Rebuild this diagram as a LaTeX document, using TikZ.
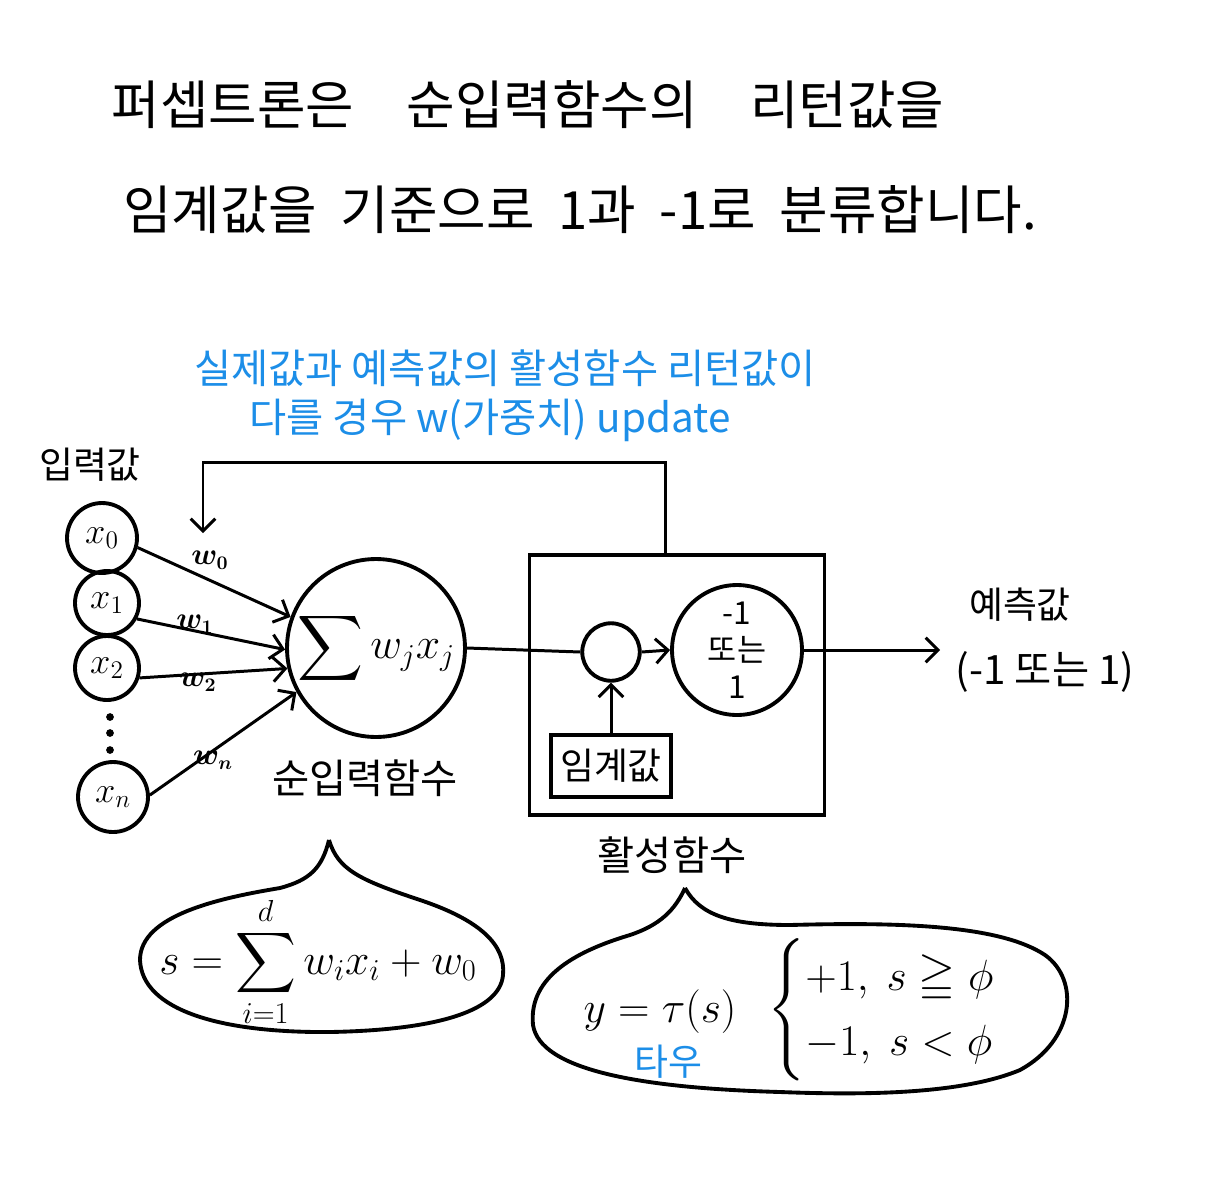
\documentclass[tikz,border=0pt]{standalone}
\usepackage{amsmath,amssymb}
\usepackage{fontspec}
\setmainfont{Noto Sans CJK KR}
\usepackage{tikz}
\usetikzlibrary{positioning,arrows.meta,calc}
\usepackage{xcolor}
\definecolor{penblue}{RGB}{28,142,232}

\begin{document}
\begin{tikzpicture}[x=0.02cm,y=-0.02cm,
  every node/.style={font=\fontsize{21}{25}\selectfont},
  pen/.style={line width=1.7pt},
  penarrow/.style={pen,-{Straight Barb[length=7pt,width=14pt,line width=1.7pt]}},
  incircle/.style={circle,draw,line width=2.2pt,inner sep=0pt},
  wlabel/.style={font=\fontsize{16}{18}\selectfont\boldmath},
  title/.style={font=\fontsize{30}{36}\selectfont},
  bluenote/.style={text=penblue,font=\fontsize{23}{28}\selectfont}]

\fill[white] (0,0) rectangle (1216,1200);

% title
\node[title] (title1) at (528,105) {퍼셉트론은\quad 순입력함수의\quad 리턴값을};
\node[title] (title2) at (580,210) {임계값을\hspace{0.45em}기준으로\hspace{0.45em}1과\hspace{0.45em}-1로\hspace{0.45em}분류합니다.};

% update note
\node[bluenote] (note1) at (505,368) {실제값과 예측값의 활성함수 리턴값이};
\node[bluenote] (note2) at (490,420) {다를 경우 w(가중치) update};

% inputs
\node (inlabel) at (90,465) {입력값};
\node[incircle,minimum size=1.4cm,font=\fontsize{22}{24}\selectfont] (x0) at (102,538) {$x_0$};
\node[incircle,minimum size=1.28cm,font=\fontsize{22}{24}\selectfont] (x1) at (107,603) {$x_1$};
\node[incircle,minimum size=1.28cm,font=\fontsize{22}{24}\selectfont] (x2) at (107,668) {$x_2$};
\node[incircle,minimum size=1.4cm,font=\fontsize{22}{24}\selectfont] (xn) at (113,797) {$x_n$};
\foreach \y in {717,733,750}
  \fill (110,\y) circle (2.2pt);

% net input
\node[incircle,minimum size=3.56cm,font=\fontsize{26}{30}\selectfont] (sum) at (376,648) {$\displaystyle\sum w_j x_j$};
\node[font=\fontsize{23}{26}\selectfont] (sumlabel) at (365,778) {순입력함수};

\node[wlabel] (w0) at (210,560) {$w_0$};
\node[wlabel] (w1) at (195,624) {$w_1$};
\node[wlabel] (w2) at (198,682) {$w_2$};
\node[wlabel] (wn) at (213,760) {$w_n$};

\draw[penarrow] (x0.-15) -- (sum.160);
\draw[penarrow] (x1.-28) -- (sum.181);
\draw[penarrow] (x2.-17) -- (sum.193);
\draw[penarrow] (xn.3) -- (sum.209);

% activation
\node[draw,line width=2pt,minimum width=5.9cm,minimum height=5.2cm] (act) at (677,685) {};
\node[incircle,minimum size=1.15cm] (gate) at (611,652) {};
\node[incircle,minimum size=2.6cm,align=center,font=\fontsize{18}{21}\selectfont] (sign) at (737,650) {-1\\또는\\1};
\node[draw,line width=2pt,minimum width=2.4cm,minimum height=1.24cm] (thr) at (611,766) {임계값};
\node[font=\fontsize{23}{26}\selectfont] (actlabel) at (672,855) {활성함수};

\draw[pen] (sum.east) -- (gate.west);
\draw[penarrow] (gate.east) -- (sign.west);
\draw[penarrow] (thr.north) -- (gate.south);

% output
\coordinate (outtip) at (940,650);
\draw[penarrow] (sign.east) -- (outtip);
\node (predlabel) at (1020,605) {예측값};
\node[font=\fontsize{23}{26}\selectfont] (predrange) at (1045,672) {(-1 또는 1)};

% feedback
\coordinate (fbturn) at (665,462);
\coordinate (fbend) at (203,533);
\draw[penarrow] (act.north -| fbturn) -- (fbturn) -| (fbend);

% bubbles
\draw[line width=2.2pt] (329,840) .. controls (338,870) and (360,880) .. (420,900)
  .. controls (480,920) and (506,945) .. (503,975)
  .. controls (500,1010) and (440,1030) .. (330,1032)
  .. controls (220,1033) and (142,1010) .. (140,960)
  .. controls (140,915) and (220,898) .. (280,888)
  .. controls (310,880) and (322,868) .. (329,840);
\node[font=\fontsize{24}{28}\selectfont] (netform) at (318,962) {$\displaystyle s=\sum_{i=1}^{d} w_i x_i + w_0$};

\draw[line width=2.2pt] (685,888) .. controls (700,915) and (730,925) .. (790,925)
  .. controls (900,922) and (1000,925) .. (1045,955)
  .. controls (1080,980) and (1075,1040) .. (1020,1070)
  .. controls (960,1095) and (860,1095) .. (780,1092)
  .. controls (640,1088) and (540,1070) .. (533,1025)
  .. controls (528,975) and (580,950) .. (630,935)
  .. controls (660,925) and (675,910) .. (685,888);
\node[font=\fontsize{34}{38}\selectfont] (yeq) at (660,1012) {$y=\tau(s)$};
\node[text=penblue] (tau) at (668,1062) {타우};
\node[font=\fontsize{27}{31}\selectfont] (cases) at (905,1010) {$\begin{cases} +1,\ s\geqq\phi\\ -1,\ s<\phi\end{cases}$};
\end{tikzpicture}
\end{document}
